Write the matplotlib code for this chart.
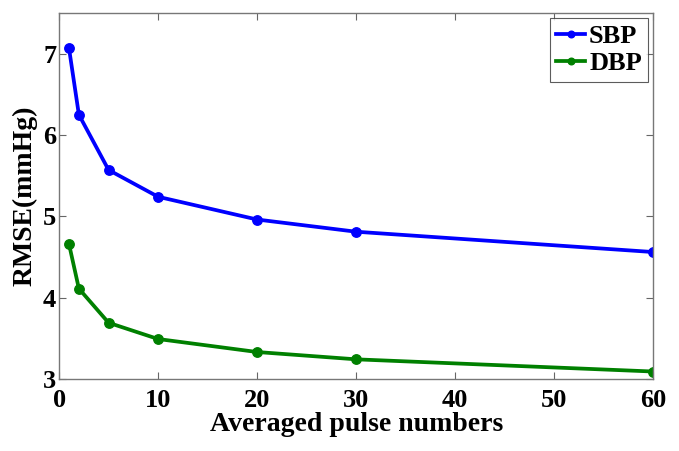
import matplotlib
matplotlib.use('Agg')
import matplotlib.pyplot as plt

# averaged pulse numbers vs RMSE
pulse_num = [1, 2, 5, 10, 20, 30, 60]
sbp_rmse = [7.07, 6.25, 5.57, 5.24, 4.96, 4.81, 4.56]
dbp_rmse = [4.66, 4.11, 3.69, 3.49, 3.33, 3.24, 3.09]
x_ticks = [0, 10, 20, 30, 40, 50, 60]
y_ticks = [3, 4, 5, 6, 7]

plt.rcParams['font.family'] = ['Liberation Serif', 'DejaVu Serif']
plt.rcParams['font.weight'] = 'bold'

fig = plt.figure(figsize=(6.79, 4.51), dpi=100)
ax = fig.add_axes([0.087, 0.160, 0.875, 0.811])

ax.plot(pulse_num, sbp_rmse, '-o', color='#0000ff', lw=2.7, ms=6.8, label='SBP')
ax.plot(pulse_num, dbp_rmse, '-o', color='#008000', lw=2.7, ms=6.8, label='DBP')

ax.set_xlim(0, 60)
ax.set_ylim(3, 7.5)
ax.set_xticks(x_ticks)
ax.set_yticks(y_ticks)
ax.tick_params(direction='in', top=True, right=True, length=5, width=0.8,
               color='#666666', labelsize=19)
ax.tick_params(axis='x', pad=7)
ax.tick_params(axis='y', pad=2)
for lab in ax.get_xticklabels() + ax.get_yticklabels():
    lab.set_fontweight('bold')
for sp in ax.spines.values():
    sp.set_color('#777777')
    sp.set_linewidth(1.0)

ax.set_xlabel('Averaged pulse numbers', fontsize=20, fontweight='bold', labelpad=0)
ax.set_ylabel('RMSE(mmHg)', fontsize=20, fontweight='bold', labelpad=4)

leg = ax.legend(loc='upper right', numpoints=1, handlelength=1.1,
                handletextpad=0.15, labelspacing=0.15, borderpad=0.25,
                borderaxespad=0.18, fancybox=False, markerscale=0.7,
                prop={'weight': 'bold', 'size': 19})
leg.get_frame().set_edgecolor('#333333')
leg.get_frame().set_linewidth(0.8)

fig.savefig('out.png', dpi=100)
